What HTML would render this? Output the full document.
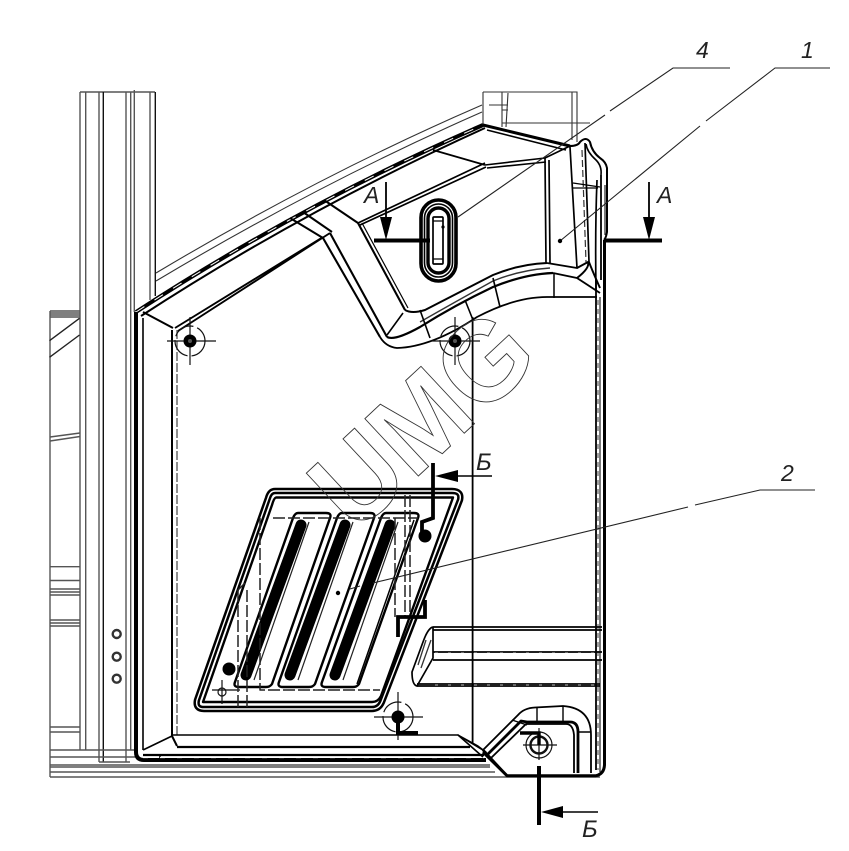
<!DOCTYPE html>
<html><head><meta charset="utf-8"><style>
html,body{margin:0;padding:0;background:#fff;width:849px;height:851px;overflow:hidden}
svg{display:block;filter:blur(.35px)}
text{font-family:"Liberation Sans",sans-serif;font-style:italic;fill:#222}
</style></head><body>
<svg width="849" height="851" viewBox="0 0 849 851" xmlns="http://www.w3.org/2000/svg">
<rect width="849" height="851" fill="#fff"/>
<!-- left frame -->
<g fill="none" stroke="#555" stroke-width="1.4">
<path d="M80,92H155M80,92V750M85.7,92V750M99,92V762M126,92V762M130.7,92V750M134.3,90V312M150,92V300"/>
<path d="M103.3,92V762" stroke="#111"/>
<path d="M155.3,92V296" stroke="#111"/>
<path d="M99,762H130"/>
<path d="M50,311H80M50,313H80M50,315H80M50,317H80"/>
<path d="M50,311V777"/>
<path d="M49.5,340.7L79.5,318.3M49.5,357.3L79.5,335" stroke="#222"/>
<path d="M50,437L80,433M50,441L80,436.5"/>
<path d="M50,566.7H80M50,580.5H80M50,589H80M50,592H80M50,595H80M50,620H80M50,623H80M50,626H80M50,727H80M50,732H80"/>
<path d="M50,750H135M50,757H135M50,765H490M50,767H490M50,772H495M50,777H600"/>
</g>
<!-- trio -->
<g fill="none" stroke="#333" stroke-width="2.4"><circle cx="116.7" cy="634" r="4"/><circle cx="116.7" cy="656.7" r="4"/><circle cx="116.7" cy="678.7" r="4"/></g>
<!-- top thin arcs and box -->
<g fill="none" stroke="#333" stroke-width="1.1">
<path d="M156,273Q320,175 482,105M156,281Q320,183 482,112"/>
<path d="M483,92H577V142M572,92V140M483,92V125M502,92V127M508,93L506,127M502,123H590M489,105H508M502,110H508"/>
</g>
<!-- main panel outline -->
<g fill="none" stroke="#000" stroke-linejoin="round">
<path d="M136,312Q300,205 483,125" stroke-width="4"/>
<path d="M136,312Q300,205 483,125" stroke="#fff" stroke-width="1" stroke-dasharray="10 12"/>
<path d="M141,316Q304,210 485,128" stroke-width="2"/>
<path d="M483,125L570,146" stroke-width="3"/>
<path d="M487,130L566,150" stroke-width="1.6"/>
<path d="M570,146Q578,146 580,142Q586,136 590,142Q592,152 600,158Q606,162 607,168V232Q606,238 604,240" stroke-width="2"/>
<path d="M586,144Q587,152 596,160Q602,166 601,175" stroke-width="1.6"/>
<path d="M136,312V752Q136,760 144,760H486" stroke-width="4"/>
<path d="M139,320V752" stroke="#fff" stroke-width="1.2" stroke-dasharray="4 9"/>
<path d="M143,318V750" stroke-width="1.6"/>
<path d="M143,312L173,328" stroke-width="2"/>
<path d="M172,330V736L177,746" stroke-width="2"/>
<path d="M177,330V735" stroke-width="1.2" stroke="#444" stroke-dasharray="9 2"/>
<path d="M143,750L172,736M160,755V760" stroke-width="1.6"/>
<path d="M172,735H458L483,757" stroke-width="1.6"/>
<path d="M177,747H470" stroke-width="2.2"/>
<path d="M143,755H484" stroke-width="2.2"/>
<path d="M143,751H480" stroke="#fff" stroke-width="1" stroke-dasharray="5 12"/>
<path d="M143,757.5H484" stroke="#fff" stroke-width="1.2" stroke-dasharray="5 12"/>
<path d="M458,735L486,752L478,746Z" fill="#000" stroke-width="1.4"/>
<path d="M472.6,317V743" stroke-width="1.8"/>
<!-- right edge -->
<path d="M604.5,240V765Q604,774 596,775.7H507L483,752" stroke-width="3"/>
<path d="M600,297V772" stroke-width="1.2" stroke="#222"/>
<path d="M596,280V770" stroke-width="1.8"/>
<path d="M598,300V770" stroke="#555" stroke-width="1.1" stroke-dasharray="5 4"/>
<path d="M601,175V280" stroke-width="1.8"/>
<path d="M605,185V235" stroke-width="1.2" stroke="#222"/>
<path d="M597,180Q595,230 596,290" stroke-width="1.7"/>
<!-- recess top -->
<path d="M175,328L323,237M178,331L330,233" stroke-width="1.9"/>
<path d="M290,218L323,238M303,212L332,232M324,200L358,223" stroke-width="2"/>
<path d="M330,233L387,337M323,238L380,337M358,223L405,310" stroke-width="2.1"/>
<path d="M362,223L408,308" stroke-width="1.2"/>
<path d="M380,337Q386,347 397,348Q432,347 477,317Q515,297 547,297H597" stroke-width="1.8"/>
<path d="M387,337Q395,341 420,327Q455,305 493,287Q525,274 553,273" stroke-width="2.2"/>
<path d="M405,310Q412,314 425,310Q460,292 493,275Q520,264 547,263" stroke-width="2"/>
<path d="M420,322Q455,302 493,281Q520,270 550,268" stroke="#333" stroke-width="1.4"/>
<path d="M403,313L387,335M420,310L430,338M493,278L500,307M465,300L473,320" stroke-width="1.6"/>
<path d="M433,150L485,165M358,223L485,163M360,225L486,167" stroke-width="1.7"/>
<path d="M485,165L545,158L570,146M487,168L546,162" stroke-width="1.6"/>
<path d="M545,158L546,263M549,160L550,263" stroke-width="1.7"/>
<path d="M570,147L577,268M585,143L589,262" stroke-width="1.7"/>
<path d="M582,150L586,262" stroke="#333" stroke-width="1.2" stroke-dasharray="7 3"/>
<path d="M547,263L577,268L588,262Q590,268 577,278L553,273M577,278L600,293M589,262Q592,270 600,288" stroke-width="1.9"/>
<path d="M554,273V298" stroke-width="1.5"/>
<path d="M573,183L600,187M572,188H598" stroke-width="1.3"/>
<!-- slot -->
<rect x="421" y="200" width="35" height="81" rx="17.5" stroke-width="3.6"/>
<rect x="424.5" y="204" width="28" height="73" rx="14" stroke-width="1.6"/>
<rect x="428" y="208" width="21" height="65" rx="10.5" stroke-width="3.4"/>
<rect x="433" y="217" width="10" height="47" rx="1" stroke-width="1.7"/>
<path d="M433,221H443M433,259H443" stroke-width="1.2"/>
<!-- grid panel -->
<path d="M275,491H452Q462,491 460,500L382,702Q379,709 372,709H204Q195,709 197,700L268,498Q270,491 275,491Z" stroke-width="6.4"/>
<path d="M275,491H452Q462,491 460,500L382,702Q379,709 372,709H204Q195,709 197,700L268,498Q270,491 275,491Z" stroke="#fff" stroke-width="1.4"/>
<path d="M276,497.5H453L381,696Q378,702 372,702H203L272,505Q274,498 276,497.5Z" stroke-width="2.4"/>
<!-- ribs -->
<path d="M298,513H326Q332,513 330,518L272,684Q270,687 266,687H239Q233,687 235,682L293,518Q295,513 298,513Z" stroke-width="2.4"/>
<path d="M342,513H370Q376,513 374,518L315,684Q313,687 309,687H283Q277,687 279,682L337,518Q339,513 342,513Z" stroke-width="2.4"/>
<path d="M386,513H414Q420,513 418,518L359,684Q357,687 353,687H326Q320,687 322,682L381,518Q383,513 386,513Z" stroke-width="2.4"/>
<g stroke-linecap="round">
<path d="M301,525L246,675" stroke-width="11"/>
<path d="M345,525L290,675" stroke-width="11"/>
<path d="M390,525L335,675" stroke-width="11"/>
</g>
<path d="M309,522L254,680M353,522L298,680M398,522L343,680" stroke="#222" stroke-width="1.2"/>
<path d="M414,520L357,684" stroke-width="1.5"/>
<!-- dashed -->
<path d="M273,518H418M395,518V617M260,518V690H380M405,495V617M410,495V617M238,590V708M247,590V708M238,590L245,583" stroke="#222" stroke-width="1.5" stroke-dasharray="12 3"/>
<path d="M212,690H240" stroke-width="1.4" stroke="#333"/>
<!-- right horizontal recess -->
<path d="M433,627H602M433,630H602M433,652H602M433,660H602M417,684H600M417,686H600" stroke-width="1.7"/>
<path d="M433,627Q428,628 423,642L412,672Q412,685 417,686L433,658V627" stroke-width="1.7"/>
<path d="M426,640L418,665M431,640L421,668" stroke="#333" stroke-width="1.3"/>
<path d="M435,628.5H602M435,653H602M435,685H600" stroke="#fff" stroke-width=".8" stroke-dasharray="3 10"/>
<!-- lower right recess -->
<path d="M483,750L518,715Q524,708 535,707.5L563,706Q591,708 591,735V773" stroke-width="1.8"/>
<path d="M487,755L521,721L527,722H570Q578,722 578,732V773" stroke-width="2.8"/>
<path d="M491,758L526,724H566Q573,724 574,735V773" stroke-width="1.8"/>
<path d="M537,708V722M563,706V721M578,732H591M512,720L527,725" stroke-width="1.4"/>
<path d="M483,750L507,775.7" stroke-width="2.6"/>
</g>
<!-- holes -->
<g fill="none" stroke="#111" stroke-width="1.2">
<path d="M167,341H216M190,317V365"/>
<circle cx="190" cy="341" r="15" stroke-dasharray="22 4"/>
<path d="M431,341H480M455,317V365"/>
<circle cx="455" cy="341" r="15" stroke-dasharray="22 4"/>
<path d="M374,717H423M398,692V740"/>
<circle cx="398" cy="717" r="15" stroke-dasharray="22 4"/>
<path d="M523,745H557M539,728V760"/>
<circle cx="539" cy="745" r="13"/>
<circle cx="539" cy="745" r="8.5" stroke-width="2.4"/>
<circle cx="222" cy="692" r="4"/><path d="M222,680V704"/>
</g>
<g fill="#000"><circle cx="190" cy="341" r="6.5"/><circle cx="455" cy="341" r="6.5"/><circle cx="398" cy="717" r="6.5"/><circle cx="425" cy="536" r="6.5"/><circle cx="229" cy="669" r="6.5"/></g>
<g fill="#555"><circle cx="190" cy="341" r="2"/><circle cx="455" cy="341" r="2"/></g>
<!-- leaders -->
<g fill="none" stroke="#222" stroke-width="1.1">
<path d="M730,68H673L610,111M605,115L458,217"/>
<path d="M830,68H775L706,121M700,126L560,241"/>
<path d="M815,490H760L695,505M688,507L373,583M360,586L350,589"/>
</g>
<g fill="#000"><circle cx="443" cy="227" r="1.6"/><circle cx="560" cy="241" r="2.2"/><circle cx="338" cy="593" r="2.2"/></g>
<!-- section marks -->
<g fill="none" stroke="#000" stroke-linecap="butt">
<path d="M374,240.5H430M605,240.5H662" stroke-width="4"/>
<path d="M386,182V220M649,182V220" stroke-width="1.8"/>
<path d="M433,463V518L422,522V535" stroke-width="3.8"/>
<path d="M450,476H492" stroke-width="1.4"/>
<path d="M425,600V617H398V637" stroke-width="3.8"/>
<path d="M398,717V733H418" stroke-width="4"/>
<path d="M520,733H539V745" stroke-width="3.4"/>
<path d="M539,766V825" stroke-width="4"/>
<path d="M560,812H598" stroke-width="1.4"/>
</g>
<g fill="#000">
<path d="M380,217H392L386,240Z"/><path d="M643,217H655L649,240Z"/>
<path d="M435,476L458,470V482Z"/><path d="M541,812L563,806V818Z"/>
</g>
<!-- watermark -->
<text x="355" y="535" transform="rotate(-43 355 535)" font-size="114" textLength="256" lengthAdjust="spacingAndGlyphs" style="font-style:normal;font-weight:bold;fill:none;stroke:#333;stroke-width:.9">UMG</text>
<!-- labels -->
<text x="364" y="203" font-size="23">A</text>
<text x="657" y="203" font-size="23">A</text>
<text x="476" y="470" font-size="24">Б</text>
<text x="582" y="837" font-size="24">Б</text>
<text x="696" y="58" font-size="23">4</text>
<text x="801" y="58" font-size="23">1</text>
<text x="781" y="481" font-size="23">2</text>
</svg>
</body></html>
